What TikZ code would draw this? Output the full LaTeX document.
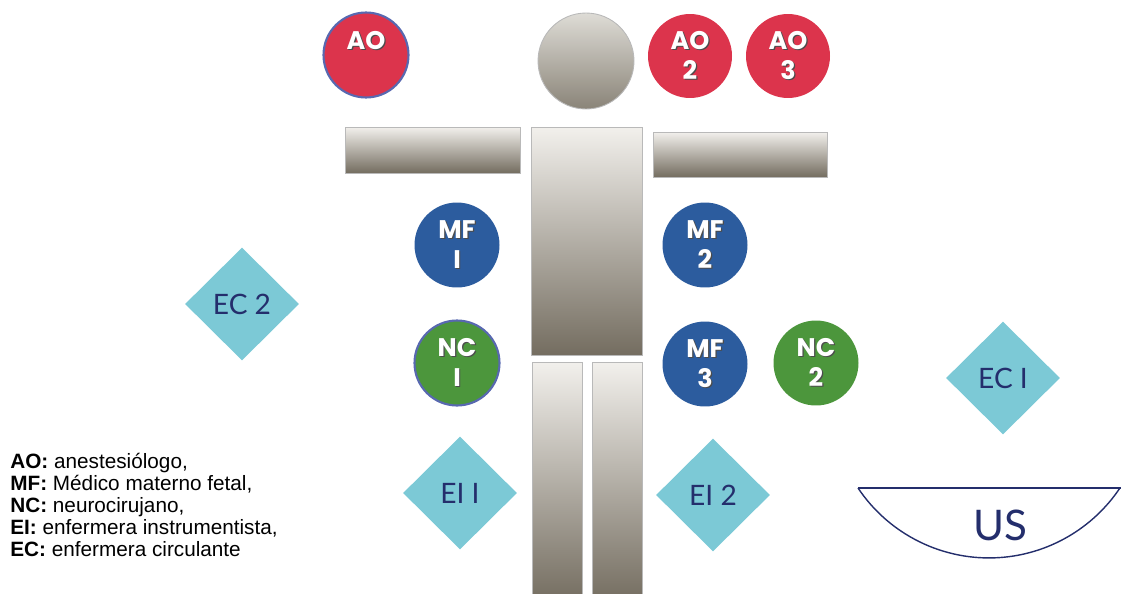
\documentclass[tikz,border=0pt]{standalone}
\usepackage{fontspec}
\usepackage{xcolor}
\usepackage{tikz}
\usetikzlibrary{positioning}
\usetikzlibrary{shapes.geometric}

\newfontfamily\tagfont{Lato}
\newfontfamily\teamfont{Poppins}
\newfontfamily\legendfont{Liberation Sans}

\definecolor{aored}{RGB}{220,52,76}
\definecolor{mfblue}{RGB}{44,92,158}
\definecolor{ncgreen}{RGB}{76,150,60}
\definecolor{ecteal}{RGB}{124,201,214}
\definecolor{navy}{RGB}{36,46,108}
\definecolor{ring}{RGB}{88,104,176}
\definecolor{bodytop}{RGB}{242,240,236}
\definecolor{bodybot}{RGB}{116,109,96}
\definecolor{headtop}{RGB}{222,220,214}
\definecolor{headbot}{RGB}{138,132,120}

% white letters with a dark drop shadow
\newcommand{\sh}[1]{\leavevmode\rlap{\kern0.7pt\raisebox{-0.8pt}{\textcolor{black!70}{#1}}}#1}

\begin{document}
\begin{tikzpicture}[
                x=0.02cm, y=0.02cm,
                % Define styles for nodes
                body part/.style={draw=gray!55, line width=0.5pt, top color=bodytop, bottom color=bodybot, inner sep=0pt},
                team/.style={circle, minimum size=1.7cm, inner sep=0pt, text=white, align=center,
                             font=\teamfont\bfseries\fontsize{14.5}{17}\selectfont},
                ao/.style={team, fill=aored},
                mf/.style={team, fill=mfblue},
                nc/.style={team, fill=ncgreen},
                ringed/.style={draw=ring, line width=1.2pt},
                nurse/.style={diamond, fill=ecteal, minimum width=2.28cm, minimum height=2.26cm, inner sep=0pt,
                              text=navy, font=\tagfont\fontsize{16}{18}\selectfont}
            ]
                \useasboundingbox (0,0) rectangle (1121,593);

                % Patient
                \node[body part, circle, minimum size=1.92cm, top color=headtop, bottom color=headbot] (head) at (586,532) {};
                \node[body part, minimum width=3.5cm, minimum height=0.92cm] (larm) at (432.5,443) {};
                \node[body part, minimum width=2.22cm, minimum height=4.56cm] (torso) at (586.5,352) {};
                \node[body part, minimum width=3.48cm, minimum height=0.9cm] (rarm) at (740,438.5) {};
                \node[body part, minimum width=1.0cm, minimum height=4.8cm] (lleg) at (557,111) {};
                \node[body part, minimum width=1.0cm, minimum height=4.8cm] (rleg) at (617,111) {};

                % Anesthesia team
                \node[ao, ringed] (AO1) at (366,538) {\sh{AO}\\\mbox{}};
                \node[ao, minimum size=1.68cm] (AO2) at (690,537) {\sh{AO}\\\sh{2}};
                \node[ao, minimum size=1.68cm] (AO3) at (788,537) {\sh{AO}\\\sh{3}};

                % Surgeons
                \node[mf] (MF1) at (457,348) {\sh{MF}\\\sh{I}};
                \node[mf] (MF2) at (705,348) {\sh{MF}\\\sh{2}};
                \node[mf] (MF3) at (705,229) {\sh{MF}\\\sh{3}};
                \node[nc, ringed] (NC1) at (457,230) {\sh{NC}\\\sh{I}};
                \node[nc] (NC2) at (816,230) {\sh{NC}\\\sh{2}};

                % Nurses
                \node[nurse] (EC2) at (242,289) {EC 2};
                \node[nurse] (EC1) at (1003,215) {EC I};
                \node[nurse] (EI1) at (460,100) {EI I};
                \node[nurse] (EI2) at (713,98) {EI 2};

                % Ultrasound
                \coordinate (usL) at (858,105);
                \coordinate (usR) at (1121,105);
                \draw[navy, line width=0.8pt] (usL) -- (usR);
                \draw[navy, line width=0.8pt] (usL) arc[start angle=213.8, end angle=326.2, radius=157.6];
                \node[text=navy, font=\tagfont\fontsize{24}{26}\selectfont] (US) at (1000,68) {US};

                % Key
                \node[anchor=north west, align=left, inner sep=0pt, font=\legendfont\fontsize{11.8}{12.5}\selectfont] (key) at (10,140) {%
                    \textbf{AO:} anestesiólogo,\\
                    \textbf{MF:} Médico materno fetal,\\
                    \textbf{NC:} neurocirujano,\\
                    \textbf{EI:} enfermera instrumentista,\\
                    \textbf{EC:} enfermera circulante};
            \end{tikzpicture}
\end{document}
